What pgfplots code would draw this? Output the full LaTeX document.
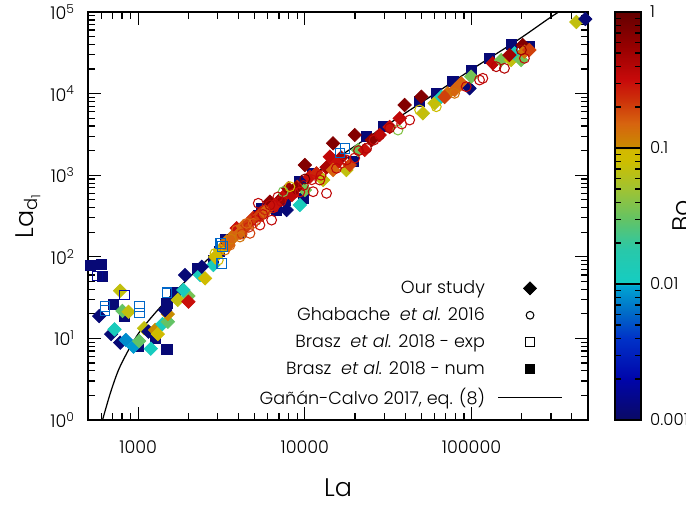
\documentclass[border=0pt]{standalone}
\usepackage{pgfplots}
\pgfplotsset{compat=1.18}
\usepackage{pgfplotstable}
\usepackage{fontspec}
\setmainfont{Poppins}[UprightFont=* Light, ItalicFont=* Light Italic]

\pgfplotsset{
  colormap={bomap}{
    rgb255(0pt)=(10,10,100)
    rgb255(30pt)=(0,5,170)
    rgb255(60pt)=(0,50,200)
    rgb255(80pt)=(0,110,200)
    rgb255(99pt)=(0,165,210)
    rgb255(100pt)=(20,205,195)
    rgb255(125pt)=(40,200,170)
    rgb255(148pt)=(100,195,100)
    rgb255(170pt)=(160,195,50)
    rgb255(190pt)=(205,190,0)
    rgb255(199pt)=(210,185,0)
    rgb255(200pt)=(200,140,0)
    rgb255(218pt)=(215,100,15)
    rgb255(235pt)=(205,50,10)
    rgb255(250pt)=(200,10,10)
    rgb255(275pt)=(150,0,0)
    rgb255(300pt)=(100,0,0)
  }
}

% Our study
\pgfplotstableread{
la lad bo
584 18.8 0.0012
689 11.3 0.0012
721 12.9 0.012
780 8.86 0.0012
844 9.56 0.008
937 7.91 0.009
780 38.4 0.07
805 21.7 0.03
875 21.2 0.07
1014 9.29 0.03
1086 13.3 0.07
1191 7.48 0.011
1153 12.1 0.0012
1264 12.7 0.1
1312 11.3 0.09
1398 15.0 0.012
1506 16.0 0.03
1506 19.9 0.1
1451 22.3 0.0012
1729 29.6 0.07
2001 33.1 0.035
2001 28.2 0.3
1867 39.2 0.012
1911 59.8 0.0012
2351 59.8 0.012
2519 54.5 0.09
2824 79.3 0.012
2407 75.6 0.0012
2900 100 0.09
3400 155 0.12
3800 190 0.13
3473 139 0.15
3900 224 0.3
3707 170 0.15
4255 234 0.15
4400 230 0.2
4900 300 0.25
5400 340 0.4
6000 390 0.2
7500 560 0.3
9000 720 0.25
6171 473 0.6
7085 497 0.5
7943 691 0.5
9333 431 0.012
10000 659 0.035
10000 1334 0.7
10710 958 0.3
11750 1055 0.25
12870 873 0.07
13500 1250 0.45
16500 1650 0.5
14770 2460 0.7
14120 1686 0.35
15480 1399 0.3
19920 3109 0.7
20850 2036 0.035
17770 1158 0.07
14770 1158 0.15
39700 7249 0.7
49980 9163 0.7
37070 4981 0.35
51090 5736 0.07
60050 7607 0.07
65860 9163 0.012
72130 10080 0.13
86770 13370 0.15
97270 11620 0.0012
99580 16110 0.035
134200 23510 0.35
150700 25810 0.035
172900 25810 0.07
180900 31180 0.012
202900 39400 0.7
198400 25810 0.035
207700 32620 0.13
425500 75430 0.07
481500 82080 0.0012
5377 325 0.2
4685 267 0.2
6613 431 0.3
8358 572 0.35
8835 697 0.6
5762 354 0.15
3097 121 0.09
4081 196 0.15
7770 375 0.0012
18600 1334 0.2
22870 2036 0.3
28120 3109 0.35
32280 3896 0.3
25190 2701 0.6
68920 9085 0.2
79120 11070 0.15
168900 29720 0.5
222500 34220 0.2
}\ourstudy

% Ghabache et al. 2016
\pgfplotstableread{
la lad bo
2891 110 0.09
3026 91.3 0.09
3300 140 0.15
3600 165 0.12
3556 139 0.15
3900 213 0.15
4200 190 0.2
4600 230 0.25
5100 280 0.3
5600 330 0.35
6500 400 0.3
7200 480 0.35
8600 600 0.35
9800 750 0.4
11000 880 0.3
12500 1000 0.35
16500 1400 0.3
21000 2000 0.4
26000 2700 0.35
4477 257 0.15
4685 194 0.2
4903 257 0.15
5377 310 0.2
5253 453 0.35
6318 282 0.35
5377 245 0.3
7415 628 0.035
8131 723 0.09
11210 628 0.35
13490 600 0.35
17770 1536 0.35
15480 1215 0.35
23420 2137 0.4
28120 3109 0.4
36210 3580 0.04
42540 4748 0.35
48820 6295 0.08
61450 6909 0.08
79120 10080 0.13
92930 12150 0.35
111700 14680 0.35
116900 15400 0.35
140600 21370 0.4
157600 20420 0.4
207700 27070 0.35
199200 34220 0.5
6171 431 0.4
6888 541 0.35
9333 623 0.3
12300 873 0.35
4081 175 0.13
3319 121 0.13
5762 375 0.25
19920 1625 0.3
32280 3787 0.45
38100 4240 0.3
10000 898 0.8
}\ghabache

% Brasz et al. 2018 - exp
\pgfplotstableread{
la lad bo
571 58.2 0.0015
634 24.5 0.006
634 21.9 0.006
828 34.0 0.002
1018 24.5 0.006
1018 20.5 0.006
1486 36.3 0.006
3172 83.2 0.006
3198 133 0.006
3128 146 0.006
17370 2137 0.006
16210 1871 0.006
}\braszexp

% Brasz et al. 2018 - num
\pgfplotstableread{
la lad bo
516 79.3 0.0012
598 81.6 0.0012
611 58.2 0.0012
711 26.4 0.0012
828 18.5 0.0012
1004 7.91 0.0012
1264 10.0 0.0012
1486 7.42 0.0012
1486 26.9 0.0012
1665 36.3 0.0012
2278 72.3 0.0012
2824 91.3 0.0012
3055 116 0.0012
3319 161 0.0012
4081 201 0.0012
5253 325 0.0012
5506 393 0.0012
6770 375 0.0012
7590 497 0.0012
9333 832 0.0012
9768 521 0.0012
11170 1064 0.0012
19460 1464 0.0012
23420 2964 0.0012
29440 3930 0.0012
48820 7957 0.0012
61450 10080 0.0012
77300 13990 0.0012
99580 19460 0.0012
128200 27070 0.0012
172900 40200 0.0012
222500 37570 0.0012
}\brasznum

% Gañán-Calvo 2017, eq. (8)
\pgfplotstableread{
la lad
611 1
680 2.12
762 4.10
875 7.21
1004 11.5
1208 18.4
1518 31.0
1910 49.5
2383 78
3013 121
3724 180
5897 400
9333 765
14770 1500
23920 2900
48900 7540
99500 19600
188400 45000
300000 87000
380000 118000
}\gcurve

\begin{document}
\begin{tikzpicture}
\useasboundingbox (0,0) rectangle (13.72cm,10.12cm);
\begin{axis}[
  at={(1.76cm,1.72cm)}, anchor=south west,
  scale only axis, width=10cm, height=8.16cm,
  xmode=log, ymode=log, log basis x=10, log basis y=10,
  xmin=500, xmax=500000, ymin=1, ymax=100000,
  xtick={1000,10000,100000}, xticklabels={1000,10000,100000},
  ytick={1,10,100,1000,10000,100000},
  yticklabels={10\textsuperscript{0},10\textsuperscript{1},10\textsuperscript{2},10\textsuperscript{3},10\textsuperscript{4},10\textsuperscript{5}},
  minor xtick={600,700,800,900,2000,3000,4000,5000,6000,7000,8000,9000,20000,30000,40000,50000,60000,70000,80000,90000,200000,300000,400000},
  minor ytick={2,3,4,5,6,7,8,9,20,30,40,50,60,70,80,90,200,300,400,500,600,700,800,900,2000,3000,4000,5000,6000,7000,8000,9000,20000,30000,40000,50000,60000,70000,80000,90000},
  tick align=inside, tick pos=both,
  major tick length=0.26cm, minor tick length=0.14cm,
  every tick/.style={black, line width=0.7pt},
  axis line style={line width=1pt},
  tick label style={font=\fontsize{10}{12}\selectfont},
  xticklabel style={yshift=-0.3cm},
  yticklabel style={xshift=-0.14cm},
  xlabel={La},
  ylabel={La\textsubscript{d\textsubscript{1}}},
  label style={font=\fontsize{14.5}{17}\selectfont},
  xlabel style={at={(axis description cs:0.5,-0.1667)}, anchor=center},
  ylabel style={at={(axis description cs:-0.11,0.5)}, anchor=base},
  colormap name=bomap,
  point meta min=-3, point meta max=0,
  colorbar,
  colorbar style={
    scale only axis,
    width=0.52cm,
    at={(parent axis.north east)}, anchor=north west, xshift=0.24cm,
    ytick={-3,-2,-1,0}, yticklabels={0.001,0.01,0.1,1},
    minor ytick={-2.699,-2.523,-2.398,-2.301,-2.222,-2.155,-2.097,-2.046,-1.699,-1.523,-1.398,-1.301,-1.222,-1.155,-1.097,-1.046,-0.699,-0.523,-0.398,-0.301,-0.222,-0.155,-0.097,-0.046},
    yticklabel pos=right, ytick pos=both, tick align=inside,
    major tick length=0.26cm, minor tick length=0.12cm,
    every tick/.style={black, line width=0.7pt},
    axis line style={line width=0.8pt},
    tick label style={font=\fontsize{9.4}{11}\selectfont},
    yticklabel style={xshift=0.06cm},
  },
  legend cell align=right,
  legend plot pos=right,
  legend image code/.code={\draw[mark repeat=2,mark phase=2] plot coordinates {(0cm,0cm)(0.64cm,0cm)(1.28cm,0cm)};},
  legend style={draw=none, fill=none, at={(0.95,0.022)}, anchor=south east,
    font=\fontsize{10}{12}\selectfont, row sep=2.4pt, inner sep=0pt, column sep=0.18cm},
]

\addplot[scatter, only marks, mark=square*, mark size=2.9pt,
  scatter/use mapped color={draw=mapped color, fill=mapped color},
  point meta={log10(\thisrow{bo})}, forget plot] table[x=la, y=lad] {\brasznum};

\addplot[scatter, only marks, mark=square*, mark size=2.7pt, mark options={rotate=45},
  scatter/use mapped color={draw=mapped color, fill=mapped color},
  point meta={log10(\thisrow{bo})}, forget plot] table[x=la, y=lad] {\ourstudy};

\addplot[scatter, only marks, mark=o, mark size=2.8pt, line width=0.6pt,
  scatter/use mapped color={draw=mapped color, fill=none},
  point meta={log10(\thisrow{bo})}, forget plot] table[x=la, y=lad] {\ghabache};

\addplot[scatter, only marks, mark=square, mark size=2.7pt, line width=0.6pt,
  scatter/use mapped color={draw=mapped color, fill=none},
  point meta={log10(\thisrow{bo})}, forget plot] table[x=la, y=lad] {\braszexp};

\addplot[black, line width=0.7pt, smooth, forget plot] table[x=la, y=lad] {\gcurve};

\addlegendimage{only marks, mark=square*, mark size=2.6pt, mark options={rotate=45}, black}
\addlegendentry{Our study}
\addlegendimage{only marks, mark=o, mark size=2.2pt, line width=0.6pt, black}
\addlegendentry{Ghabache\ \ \textit{et al.} 2016}
\addlegendimage{only marks, mark=square, mark size=2.4pt, line width=0.6pt, black}
\addlegendentry{Brasz\ \ \textit{et al.} 2018 - exp}
\addlegendimage{only marks, mark=square*, mark size=2.4pt, black}
\addlegendentry{Brasz\ \ \textit{et al.} 2018 - num}
\addlegendimage{black, line width=0.7pt}
\addlegendentry{Gañán-Calvo 2017, eq. (8)}
\end{axis}
\node[rotate=90, anchor=north, inner sep=0pt, font=\fontsize{14.5}{17}\selectfont] at (13.44cm,5.8cm) {Bo};
\end{tikzpicture}
\end{document}
